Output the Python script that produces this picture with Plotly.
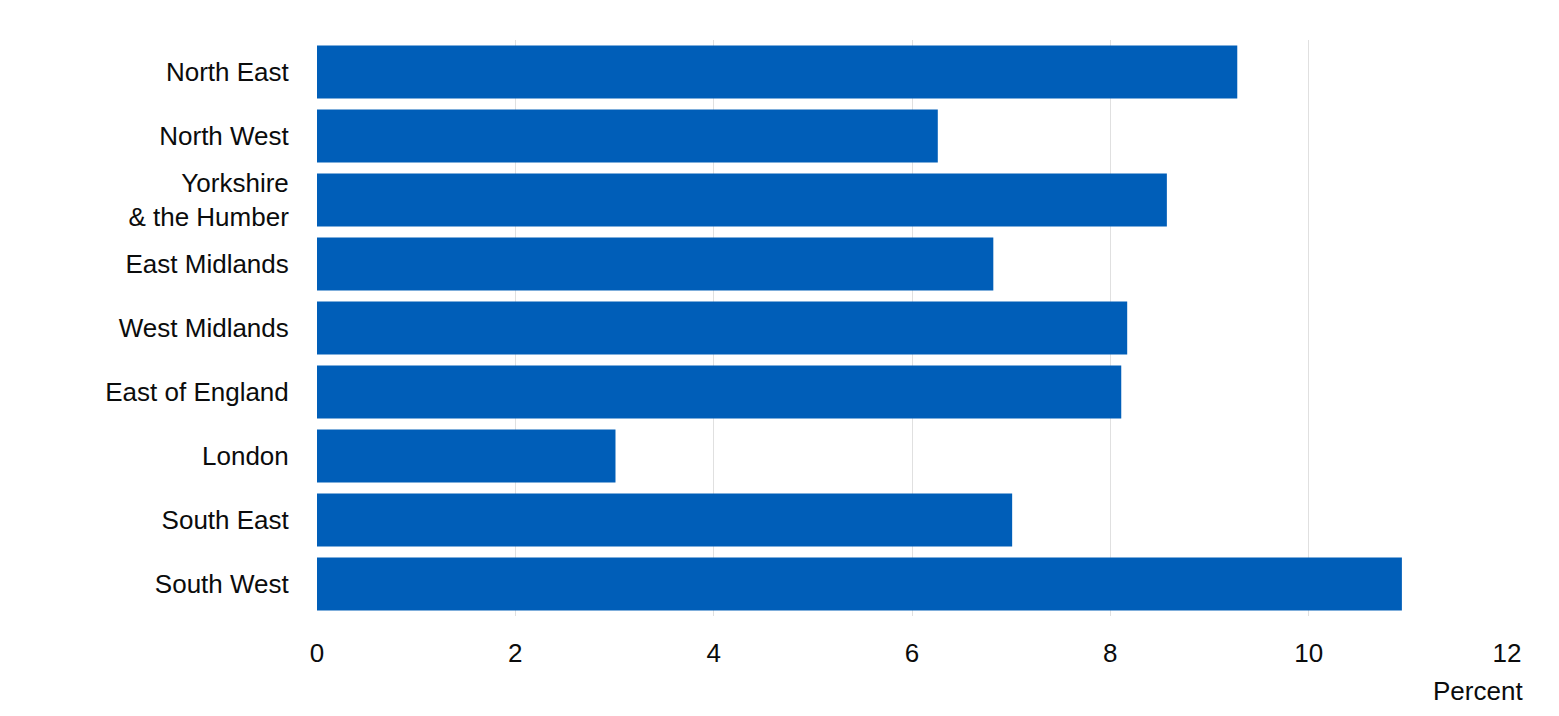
import plotly.graph_objects as go

regions = ["North East", "North West", "Yorkshire<br>& the Humber", "East Midlands",
           "West Midlands", "East of England", "London", "South East", "South West"]
values = [9.28, 6.26, 8.57, 6.82, 8.17, 8.11, 3.01, 7.01, 10.94]
x_ticks = [0, 2, 4, 6, 8, 10, 12]

fig = go.Figure(go.Bar(x=values, y=regions, orientation="h", marker_color="#005EB8",
                       marker_line_width=0))
fig.update_layout(
    width=1543, height=700,
    margin=dict(l=309, r=43, t=32, b=92),
    plot_bgcolor="white", paper_bgcolor="white",
    font=dict(family="Liberation Sans, Arial, sans-serif", size=26, color="#0b0c0c"),
    bargap=0.17, showlegend=False,
    xaxis=dict(range=[0, 12.01], tickvals=x_ticks, showgrid=True, gridcolor="#e0e0e0",
               gridwidth=1, zeroline=False, ticks="outside", ticklen=14, tickcolor="white"),
    yaxis=dict(autorange="reversed", ticks="outside", ticklen=22, tickcolor="white",
               showgrid=False),
    annotations=[dict(text="Percent", xref="paper", yref="paper", x=1.014, y=-0.13,
                      xanchor="right", yanchor="middle", showarrow=False,
                      font=dict(size=26))],
)
fig.write_html("out.html")
